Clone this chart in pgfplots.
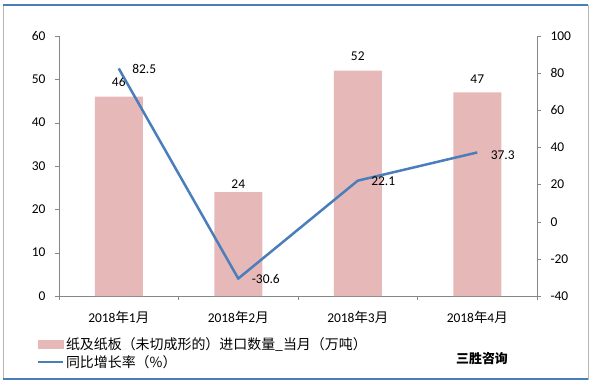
\documentclass[border=0pt]{standalone}
\usepackage{pgfplots}
\pgfplotsset{compat=1.18}
\usepackage{fontspec}
\setmainfont{Carlito}
\newfontfamily\cjk{Noto Sans CJK SC}
\definecolor{barpink}{HTML}{E6B9B8}
\definecolor{lineblue}{HTML}{4A7EBB}
\definecolor{axgray}{HTML}{868686}
\pgfplotstableread{
x y dy
0 46 15
1 24 8
2 52 14
3 47 13
}\bartable
\pgfplotstableread{
x y dy
0 82.5 0
1 -30.6 0
2 22.1 -1
3 37.3 -3
}\linetable
\begin{document}
\begin{tikzpicture}
\path[use as bounding box] (0bp,0bp) rectangle (594bp,385bp);
\draw[axgray!60, line width=0.8bp] (3bp,6bp) rectangle (588bp,380bp);
\draw[lineblue, line width=2.5bp] (3bp,380bp) -- (588bp,380bp);
\draw[lineblue, line width=2.5bp] (3bp,6bp) -- (588bp,6bp);
\begin{axis}[
  at={(59bp,89bp)}, anchor=south west, scale only axis,
  width=478bp, height=260bp,
  xmin=-0.5, xmax=3.5, ymin=0, ymax=60,
  ytick={0,10,...,60},
  axis x line*=bottom, axis y line*=left,
  xtick={0,1,2,3},
  xticklabels={2018{\cjk 年}1{\cjk 月},2018{\cjk 年}2{\cjk 月},2018{\cjk 年}3{\cjk 月},2018{\cjk 年}4{\cjk 月}},
  major x tick style={draw=none},
  minor xtick={-0.5,0.5,1.5,2.5,3.5},
  tick align=outside, major tick length=4bp, minor tick length=4bp,
  axis line style={axgray}, tick style={axgray},
  xticklabel style={yshift=-8bp, font=\fontsize{13.5}{15}\selectfont},
  yticklabel style={xshift=-6bp},
  ticklabel style={font=\fontsize{13.5}{15}\selectfont},
  /pgf/number format/assume math mode=true,
  clip=false,
]
\addplot[ybar, bar width=48bp, fill=barpink, draw=none,
  nodes near coords,
  visualization depends on={\thisrow{dy} \as \dy},
  every node near coord/.append style={anchor=center, yshift=\dy*1bp, font=\fontsize{13.5}{15}\selectfont, text=black},
] table[x=x, y=y] {\bartable};
\end{axis}
\begin{axis}[
  at={(59bp,89bp)}, anchor=south west, scale only axis,
  width=478bp, height=260bp,
  xmin=-0.5, xmax=3.5, ymin=-40, ymax=100,
  ytick={-40,-20,...,100},
  axis x line=none, axis y line*=right,
  tick align=outside, major tick length=4bp,
  axis line style={axgray}, tick style={axgray},
  yticklabel style={xshift=6bp},
  ticklabel style={font=\fontsize{13.5}{15}\selectfont},
  /pgf/number format/assume math mode=true,
  clip=false,
  legend style={draw=none, fill=none, at={(-0.046,-0.152)}, anchor=north west,
    font=\cjk\fontsize{14}{16}\selectfont, row sep=0bp, inner sep=0bp},
  legend cell align=left,
]
\addlegendimage{legend image code/.code={\fill[barpink] (0bp,-4bp) rectangle (25bp,4bp);}}
\addlegendentry{纸及纸板（未切成形的）进口数量\_当月（万吨）}
\addplot[lineblue, line width=2.5bp, mark=none,
  legend image code/.code={\draw[lineblue, line width=1.8bp] (0bp,0bp) -- (25bp,0bp);},
  nodes near coords,
  visualization depends on={\thisrow{dy} \as \dy},
  every node near coord/.append style={anchor=west, xshift=9bp, yshift=\dy*1bp, font=\fontsize{13.5}{15}\selectfont, text=black},
] table[x=x, y=y] {\linetable};
\addlegendentry{同比增长率（\%）}
\end{axis}
\node[font=\cjk\bfseries\fontsize{13}{15}\selectfont] at (482bp,26bp) {三胜咨询};
\end{tikzpicture}
\end{document}
